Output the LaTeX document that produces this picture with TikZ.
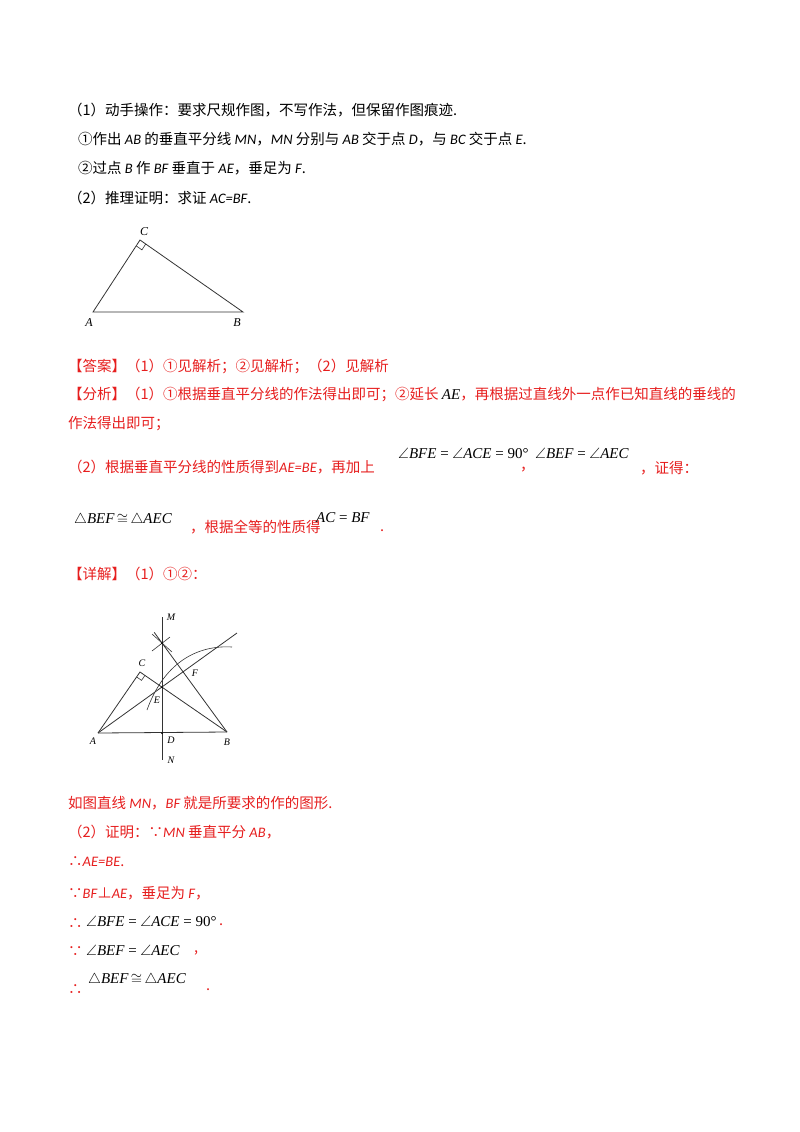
\documentclass[tikz,border=0pt]{standalone}
\usepackage{fontspec}
\usepackage{amssymb}
\newfontfamily\cjk{Noto Sans CJK SC}
\newfontfamily\lt{Carlito}
\newfontfamily\tm{Liberation Serif}
\newcommand\li[1]{{\lt\itshape #1}}
\newcommand\mi[1]{{\tm\itshape #1}}
\newcommand\ang{$\angle$}
\usetikzlibrary{calc}
\definecolor{rd}{RGB}{230,30,30}
\begin{document}
\begin{tikzpicture}[x=1pt,y=-1pt,
  t/.style={anchor=west,inner sep=0pt,font=\fontsize{14.5}{16}\selectfont\cjk},
  r/.style={t,text=rd},
  m/.style={anchor=west,inner sep=0pt,font=\fontsize{15}{16}\selectfont\tm},
  lb/.style={inner sep=0pt,font=\fontsize{12}{14}\selectfont\tm\itshape},
  sl/.style={inner sep=0pt,font=\fontsize{10}{12}\selectfont\tm\itshape},
  ln/.style={line width=0.8pt,black!80}]
\useasboundingbox (0,0) rectangle (800,1132);
\node[t] (l1) at (68,110) {（1）动手操作：要求尺规作图，不写作法，但保留作图痕迹.};
\node[t] (l2) at (78,139) {①作出 \li{AB} 的垂直平分线 \li{MN}，\li{MN} 分别与 \li{AB} 交于点 \li{D}，与 \li{BC} 交于点 \li{E}.};
\node[t] (l3) at (78,168) {②过点 \li{B} 作 \li{BF} 垂直于 \li{AE}，垂足为 \li{F}.};
\node[t] (l4) at (68,198) {（2）推理证明：求证 \li{AC=BF}.};
% triangle 1
\coordinate (C1) at (140,240); \coordinate (A1) at (93,312); \coordinate (B1) at (243,312);
\draw[ln] (A1)--(C1)--(B1)--cycle;
\draw[ln,line width=0.6pt] ($(C1)!7pt!(B1)$) -- ($(C1)!7pt!(B1)+(C1)!7pt!(A1)-(C1)$) -- ($(C1)!7pt!(A1)$);
\node[lb] (lc1) at (144,232) {C}; \node[lb] (la1) at (89,323) {A}; \node[lb] (lb1) at (237,323) {B};
% red
\node[r] (ans) at (68,366) {【答案】（1）①见解析；②见解析；（2）见解析};
\node[r] (an1) at (68,394) {【分析】（1）①根据垂直平分线的作法得出即可；②延长 \textcolor{black}{\fontsize{15}{16}\selectfont\mi{AE}}，再根据过直线外一点作已知直线的垂线的};
\node[r] (an2) at (68,424) {作法得出即可；};
\node[r] (an3) at (68,467) {（2）根据垂直平分线的性质得到\li{AE=BE}，再加上};
\node[m] (m1) at (398,453) {\ang\mi{BFE} = \ang\mi{ACE} = 90°};
\node[r] (c1) at (520,470) {，};
\node[m] (m2) at (535,453) {\ang\mi{BEF} = \ang\mi{AEC}};
\node[r] (c2) at (640,468) {，证得：};
\node[m] (m3) at (74,520) {$\triangle$\mi{BEF}\,$\cong$\,$\triangle$\mi{AEC}};
\node[r] (c3) at (190,527) {，根据全等的性质得};
\node[m] (m4) at (316,518) {\mi{AC} = \mi{BF}};
\node[r] (c4) at (380,531) {.};
\node[r] (xj) at (68,574) {【详解】（1）①②：};
% figure 2
\coordinate (A) at (98,733); \coordinate (B) at (227,732); \coordinate (D) at (162,733);
\coordinate (C) at (140,672); \coordinate (M) at (162,617); \coordinate (N) at (162,760);
\coordinate (E) at (162,687); \coordinate (X) at (237,633); \coordinate (K) at (162,643);
\coordinate (G) at ($(B)!1.12!(K)$);
\draw[ln] (A)--(B); \draw[ln] (M)--(N);
\draw[ln] (A)--(C)--(B);
\draw[ln] (A)--(X);
\draw[ln] (B)--(G);
\draw[ln,line width=0.6pt] ($(C)!6pt!(B)$) -- ($(C)!6pt!(B)+(C)!6pt!(A)-(C)$) -- ($(C)!6pt!(A)$);
\draw[ln,line width=0.6pt] (147,710) .. controls (165,660) and (200,645) .. (232,647);
\draw[ln,line width=0.6pt] (152,634)--(172,652);
\draw[ln,line width=0.6pt] (152,651)--(170,637);
\fill (D) circle (1pt); \fill (E) circle (1pt); \fill (K) circle (1pt);
\node[sl] (lm) at (171,617) {M};
\node[sl] (lnn) at (171,760) {N};
\node[sl] (lc) at (142,663) {C};
\node[sl] (le) at (157,700) {E};
\node[sl] (lf) at (195,673) {F};
\node[sl] (la) at (93,741) {A};
\node[sl] (ld) at (171,740) {D};
\node[sl] (lb) at (227,742) {B};
% proof
\node[r] (p1) at (68,803) {如图直线 \li{MN}，\li{BF} 就是所要求的作的图形.};
\node[r] (p2) at (68,832) {（2）证明：∵\li{MN} 垂直平分 \li{AB}，};
\node[r] (p3) at (68,862) {∴\li{AE=BE}.};
\node[r] (p4) at (68,893) {∵\li{BF}⊥\li{AE}，垂足为 \li{F}，};
\node[r] (p5) at (68,924) {∴};
\node[m] (p5m) at (86,921) {\ang\mi{BFE} = \ang\mi{ACE} = 90°};
\node[r] (p5d) at (219,925) {.};
\node[r] (p6) at (68,952) {∵};
\node[m] (p6m) at (86,950) {\ang\mi{BEF} = \ang\mi{AEC}};
\node[r] (p6d) at (194,953) {,};
\node[r] (p7) at (68,990) {∴};
\node[m] (p7m) at (88,980) {$\triangle$\mi{BEF}\,$\cong$\,$\triangle$\mi{AEC}};
\node[r] (p7d) at (206,990) {.};
\end{tikzpicture}
\end{document}
